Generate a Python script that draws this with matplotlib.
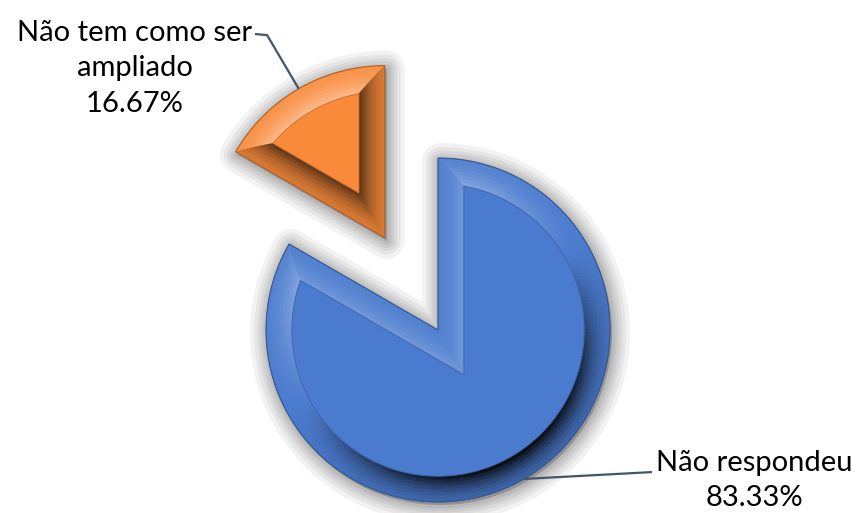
import numpy as np
import matplotlib
matplotlib.use("Agg")
import matplotlib.pyplot as plt
from matplotlib.patches import Polygon
from matplotlib.collections import PolyCollection
from matplotlib.colors import to_rgb
import matplotlib.transforms as mtransforms

# ---- data ----
categories = ["Não respondeu", "Não tem como ser\nampliado"]
values = [83.33, 16.67]
pct_labels = ["83.33%", "16.67%"]
colors = ["#4A7BCF", "#F98A3A"]
explode = [0.0, 0.62]

plt.rcParams['font.family'] = ['Lato', 'DejaVu Sans']

fig = plt.figure(figsize=(8.57, 5.13), dpi=100)
ax = fig.add_axes([0, 0, 1, 1])
wedges, _ = ax.pie(values, colors=colors, explode=explode, startangle=90,
                   counterclock=False, wedgeprops=dict(linewidth=0))
ax.set_aspect('auto')
ax.set_xlim(-2.547, 2.436)
ax.set_ylim(-1.064, 1.919)
ax.axis('off')


def shape(w, s, n=240):
    c = np.array(w.center)
    R = w.r
    t1, t2 = np.radians(w.theta1), np.radians(w.theta2)
    alpha = t2 - t1
    bis = (t1 + t2) / 2
    vertex = c + (s / np.sin(alpha / 2)) * np.array([np.cos(bis), np.sin(bis)])
    delta = np.arcsin(s / (R - s)) if s > 0 else 0.0
    ang = np.linspace(t1 + delta, t2 - delta, n)
    arc = np.column_stack([c[0] + (R - s) * np.cos(ang), c[1] + (R - s) * np.sin(ang)])
    return vertex, arc, ang


def shade(base, k):
    b = np.array(to_rgb(base))
    if k >= 0:
        return tuple(b + (1 - b) * min(k, 1))
    return tuple(b * (1 + max(k, -1)))


light = np.radians(120)
lvec = np.array([np.cos(light), np.sin(light)])
dark_gain = [0.95, 1.2]

def tone(col, dot, g, dg):
    if dot > 0:
        return shade(col, dot * g * 0.4)
    return shade(col, dot * g * dg)

for w, col, dg in zip(wedges, colors, dark_gain):
    w.set_visible(False)
    v0, a0, _ = shape(w, 0)
    outline = np.vstack([v0, a0])
    # soft shadow
    trans = mtransforms.offset_copy(ax.transData, fig=fig, x=2, y=-3, units='dots')
    for lw in [26, 20, 15, 11, 7, 4]:
        ax.add_patch(Polygon(outline, closed=True, facecolor=(0, 0, 0, 0.035),
                             edgecolor=(0, 0, 0, 0.05), linewidth=lw,
                             joinstyle='round', transform=trans, zorder=1))
    d = 0.15 * w.r
    nsub = 8
    polys, cols = [], []
    t1, t2 = np.radians(w.theta1), np.radians(w.theta2)
    for k in range(nsub):
        s_a, s_b = d * k / nsub, d * (k + 1) / nsub
        u = (k + 0.5) / nsub
        g = 0.2 + 0.85 * u ** 1.6
        va, aa, anga = shape(w, s_a)
        vb, ab, angb = shape(w, s_b)
        for i in range(len(aa) - 1):
            polys.append([aa[i], aa[i + 1], ab[i + 1], ab[i]])
            m = 0.5 * (anga[i] + anga[i + 1])
            dot = np.cos(m) * lvec[0] + np.sin(m) * lvec[1]
            cols.append(tone(col, dot, g, dg))
        for idx, nang in [(0, t1 - np.pi / 2), (-1, t2 + np.pi / 2)]:
            polys.append([va, aa[idx], ab[idx], vb])
            dot = np.cos(nang) * lvec[0] + np.sin(nang) * lvec[1]
            cols.append(tone(col, dot, g, dg))
    pc = PolyCollection(polys, facecolors=cols, edgecolors=cols, linewidths=0.4, zorder=3)
    ax.add_collection(pc)
    vn, an, _ = shape(w, d)
    ax.add_patch(Polygon(np.vstack([vn, an]), closed=True, facecolor=col,
                         edgecolor=shade(col, -0.2), linewidth=0.6, zorder=4))
    ax.add_patch(Polygon(outline, closed=True, facecolor='none',
                         edgecolor=shade(col, -0.3), linewidth=0.8, zorder=5))

# ---- leader lines and labels ----
lead_col = "#44546A"
def arc_mid(w):
    m = np.radians((w.theta1 + w.theta2) / 2)
    return w.center[0] + w.r * np.cos(m), w.center[1] + w.r * np.sin(m)

bx, by = arc_mid(wedges[0])
ax.plot([bx, 1.244], [by, -0.826], color=lead_col, lw=1.6, zorder=6, solid_capstyle='butt')
ox, oy = arc_mid(wedges[1])
ax.plot([ox, -0.994, -1.064], [oy, 1.715, 1.721], color=lead_col, lw=1.6, zorder=6,
        solid_capstyle='butt')

ax.text(1.837, -0.875, categories[0] + "\n" + pct_labels[0], ha='center', va='center',
        fontsize=21, color='black', linespacing=1.4, zorder=7)
ax.text(-1.762, 1.523, categories[1] + "\n" + pct_labels[1], ha='center', va='center',
        fontsize=21, color='black', linespacing=1.45, zorder=7)

fig.savefig("out.png", dpi=100)
